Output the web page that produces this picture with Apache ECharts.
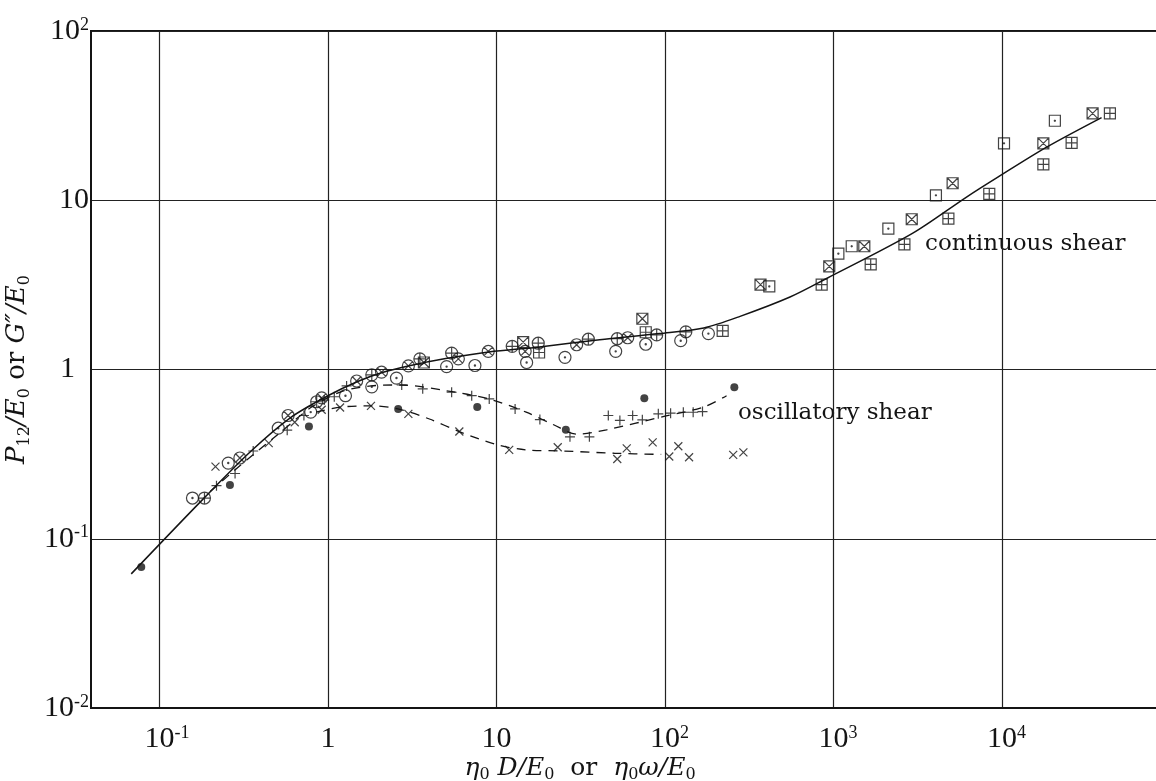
<!DOCTYPE html>
<html><head><meta charset="utf-8">
<script src="https://cdn.jsdelivr.net/npm/echarts@6/dist/echarts.min.js"></script>
<style>html,body{margin:0;padding:0;background:#fff}#c{width:1156px;height:781px}</style>
</head><body><div id="c"></div>
<script>
// ---- data (x = eta0 D/E0 or eta0 omega/E0, y = P12/E0 or G''/E0) ----
const xTickValues = [0.1, 1, 10, 100, 1000, 10000];
const yTickValues = [0.01, 0.1, 1, 10, 100];

const circleDot = [[0.157,0.174],[0.256,0.28],[0.507,0.45],[0.79,0.56],[1.27,0.70],[1.82,0.79],[2.55,0.89],[5.06,1.04],[7.45,1.056],[15.1,1.10],[25.5,1.18],[51,1.28],[76.9,1.41],[124,1.48],[181,1.63]];
const circlePlus = [[0.185,0.174],[0.857,0.645],[1.82,0.93],[3.51,1.156],[5.42,1.25],[12.4,1.37],[17.7,1.43],[35.1,1.51],[52.1,1.52],[89.3,1.60],[133,1.67]];
const circleCross = [[0.30,0.30],[0.58,0.535],[0.918,0.68],[1.48,0.855],[2.08,0.965],[3.0,1.05],[5.94,1.156],[8.94,1.28],[14.8,1.28],[29.9,1.40],[60.1,1.54]];
const filledDot = [[0.078,0.068],[0.262,0.208],[0.771,0.46],[2.61,0.585],[7.69,0.60],[25.8,0.44],[75.4,0.676],[258,0.786]];
const plusPts = [[0.218,0.206],[0.281,0.243],[0.36,0.33],[0.573,0.438],[0.72,0.535],[0.95,0.66],[1.09,0.69],[1.29,0.80],[2.74,0.81],[3.65,0.769],[5.42,0.734],[7.13,0.70],[9.06,0.67],[12.9,0.585],[18.1,0.506],[27.3,0.40],[35.6,0.40],[46.1,0.535],[54,0.50],[64.3,0.535],[73.4,0.504],[91.3,0.547],[108,0.552],[128.5,0.559],[147,0.559],[167,0.564]];
const crossPts = [[0.215,0.267],[0.445,0.367],[0.635,0.488],[0.918,0.578],[1.18,0.596],[1.80,0.61],[3.0,0.547],[6.02,0.43],[11.9,0.335],[23.1,0.347],[52.1,0.296],[59.3,0.342],[84.5,0.371],[106,0.306],[120,0.352],[139,0.303],[254,0.313],[292,0.324]];
const squareDot = [[416,3.10],[1069,4.84],[1283,5.35],[2117,6.80],[4055,10.7],[10280,21.7],[20600,29.5]];
const squareCross = [[3.71,1.10],[14.4,1.45],[73.4,1.995],[369,3.17],[944,4.07],[1524,5.35],[2914,7.72],[5095,12.6],[17600,21.7],[34500,32.6]];
const squarePlus = [[17.9,1.26],[76.9,1.66],[220,1.69],[851,3.17],[1663,4.18],[2636,5.49],[4808,7.79],[8405,10.9],[17600,16.3],[25900,21.8],[43700,32.6]];

const continuousCurve = [[0.068,0.062],[0.185,0.175],[0.35,0.33],[0.6,0.52],[1.0,0.70],[1.5,0.85],[2.1,0.96],[3.0,1.05],[5,1.16],[9,1.27],[18,1.36],[41,1.5],[93,1.63],[170,1.76],[279,2.06],[552,2.68],[910,3.45],[2940,6.37],[6160,10.45],[9450,13.7],[18400,20.6],[39000,30.8]];
const plusCurve = [[0.2,0.19],[0.3,0.27],[0.5,0.41],[0.8,0.6],[1.2,0.74],[1.8,0.80],[2.7,0.81],[5,0.75],[9,0.67],[15,0.56],[22,0.47],[30,0.415],[45,0.44],[100,0.53],[170,0.6],[232,0.70]];
const crossCurve = [[0.85,0.56],[1.2,0.60],[1.8,0.61],[2.6,0.585],[4,0.51],[6,0.43],[10,0.36],[15,0.335],[25,0.33],[50,0.32],[95,0.315]];

const annotations = ['continuous shear', 'oscillatory shear'];

// ---- symbols ----
const CIRC = 'M0,10A10,10,0,1,1,20,10A10,10,0,1,1,0,10Z';
const SQ = 'M0,0L20,0L20,20L0,20Z';
const DOT = 'M9,10A1,1,0,1,1,11,10A1,1,0,1,1,9,10Z';
const PLUS = 'M10,0L10,20M0,10L20,10';
const CROSS = 'M0,0L20,20M20,0L0,20';
const CROSS_IN = 'M2.93,2.93L17.07,17.07M17.07,2.93L2.93,17.07';

const INK = '#141414';
const SERIF = '"DejaVu Serif", serif';
const TICKFONT = '"Liberation Serif", serif';

function isPow10(v){ const l = Math.log10(v); return Math.abs(l - Math.round(l)) < 1e-6; }
function xLabel(v){
  if (!isPow10(v)) return '';
  const e = Math.round(Math.log10(v));
  if (e === 0) return '{b|1}';
  if (e === 1) return '{b|10}';
  return (e < 0 ? '{bn|10}' : '{bp|10}') + '{s|' + e + '}';
}
function yLabel(v){
  if (!isPow10(v)) return '';
  const e = Math.round(Math.log10(v));
  if (e === 0) return '{one|1}';
  if (e === 1) return '{b|10}';
  return '{b|10}{s|' + e + '}';
}

function scatter(data, path, size){
  return { type:'scatter', data, symbol:'path://' + path, symbolSize:size, z:5,
    itemStyle:{ color:'rgba(255,255,255,0)', borderColor:INK, borderWidth:1.2 }, silent:true };
}

const chart = echarts.init(document.getElementById('c'), null, {renderer:'canvas'});
chart.setOption({
  animation:false,
  backgroundColor:'#fff',
  grid:{ left:91, right:-6, top:31, bottom:73, containLabel:false, outerBoundsMode:'none',
    show:true, borderColor:INK, borderWidth:2, backgroundColor:'transparent' },
  xAxis:{ type:'log', logBase:10, min:0.03924, max:89050,
    axisLine:{ show:true, lineStyle:{ color:INK, width:2 } },
    axisTick:{ show:false, customValues:xTickValues },
    splitLine:{ show:true, lineStyle:{ color:'#222', width:1.2 } },
    axisLabel:{ customValues:xTickValues, formatter:xLabel, margin:16, color:INK,
      rich:{
        b:{ fontFamily:TICKFONT, fontSize:30, lineHeight:30, color:INK },
        bn:{ fontFamily:TICKFONT, fontSize:30, lineHeight:30, color:INK, padding:[0,0,0,15] },
        bp:{ fontFamily:TICKFONT, fontSize:30, lineHeight:30, color:INK, padding:[0,0,0,9] },
        s:{ fontFamily:TICKFONT, fontSize:18, lineHeight:18, verticalAlign:'top', color:INK }
      } }
  },
  yAxis:{ type:'log', logBase:10, min:0.01, max:100,
    axisLine:{ show:true, lineStyle:{ color:INK, width:2 } },
    axisTick:{ show:false, customValues:yTickValues },
    splitLine:{ show:true, lineStyle:{ color:'#222', width:1.2 } },
    axisLabel:{ customValues:yTickValues, formatter:yLabel, margin:2, color:INK,
      rich:{
        b:{ fontFamily:TICKFONT, fontSize:30, lineHeight:30, color:INK },
        one:{ fontFamily:TICKFONT, fontSize:30, lineHeight:30, color:INK, padding:[0,14,0,0] },
        s:{ fontFamily:TICKFONT, fontSize:18, lineHeight:18, verticalAlign:'top', color:INK }
      } },
    name:'{i|P}{sub|12}{i|/E}{sub|0}{r| or }{i|G\u2033/E}{sub|0}',
    nameLocation:'middle', nameRotate:90, nameGap:54,
    nameTextStyle:{ rich:{
      i:{ fontFamily:SERIF, fontStyle:'italic', fontSize:26, lineHeight:32, color:INK },
      r:{ fontFamily:SERIF, fontSize:26, lineHeight:32, color:INK },
      sub:{ fontFamily:SERIF, fontSize:16, lineHeight:16, verticalAlign:'bottom', color:INK }
    } }
  },
  graphic:[
    { type:'text', x:580, y:768, silent:true, style:{
      text:'{i|η}{sub|0}{i| D/E}{sub|0}{r|  or  }{i|η}{sub|0}{i|ω/E}{sub|0}',
      align:'center', verticalAlign:'middle',
      rich:{
        i:{ fontFamily:SERIF, fontStyle:'italic', fontSize:25, lineHeight:30, fill:INK },
        r:{ fontFamily:SERIF, fontSize:25, lineHeight:30, fill:INK },
        sub:{ fontFamily:SERIF, fontSize:16, lineHeight:16, verticalAlign:'bottom', fill:INK }
      } } },
    { type:'text', x:925, y:244, silent:true, style:{ text:annotations[0], fontFamily:SERIF, fontSize:23, fill:INK, align:'left', verticalAlign:'middle' } },
    { type:'text', x:738, y:413, silent:true, style:{ text:annotations[1], fontFamily:SERIF, fontSize:23, fill:INK, align:'left', verticalAlign:'middle' } }
  ],
  series:[
    { type:'line', data:continuousCurve, showSymbol:false, smooth:0.3, z:2, silent:true,
      lineStyle:{ color:INK, width:1.5 } },
    { type:'line', data:plusCurve, showSymbol:false, smooth:0.3, z:2, silent:true,
      lineStyle:{ color:INK, width:1.3, type:[9,7] } },
    { type:'line', data:crossCurve, showSymbol:false, smooth:0.3, z:2, silent:true,
      lineStyle:{ color:INK, width:1.3, type:[9,7] } },
    scatter(circleDot, CIRC + DOT, 12),
    scatter(circlePlus, CIRC + PLUS, 12),
    scatter(circleCross, CIRC + CROSS_IN, 12),
    scatter(squareDot, SQ + DOT, 11),
    scatter(squareCross, SQ + CROSS, 11),
    scatter(squarePlus, SQ + PLUS, 11),
    scatter(plusPts, PLUS, 10),
    scatter(crossPts, CROSS, 8),
    { type:'scatter', data:filledDot, symbol:'circle', symbolSize:8, z:6, silent:true,
      itemStyle:{ color:INK } }
  ]
});
</script></body></html>
